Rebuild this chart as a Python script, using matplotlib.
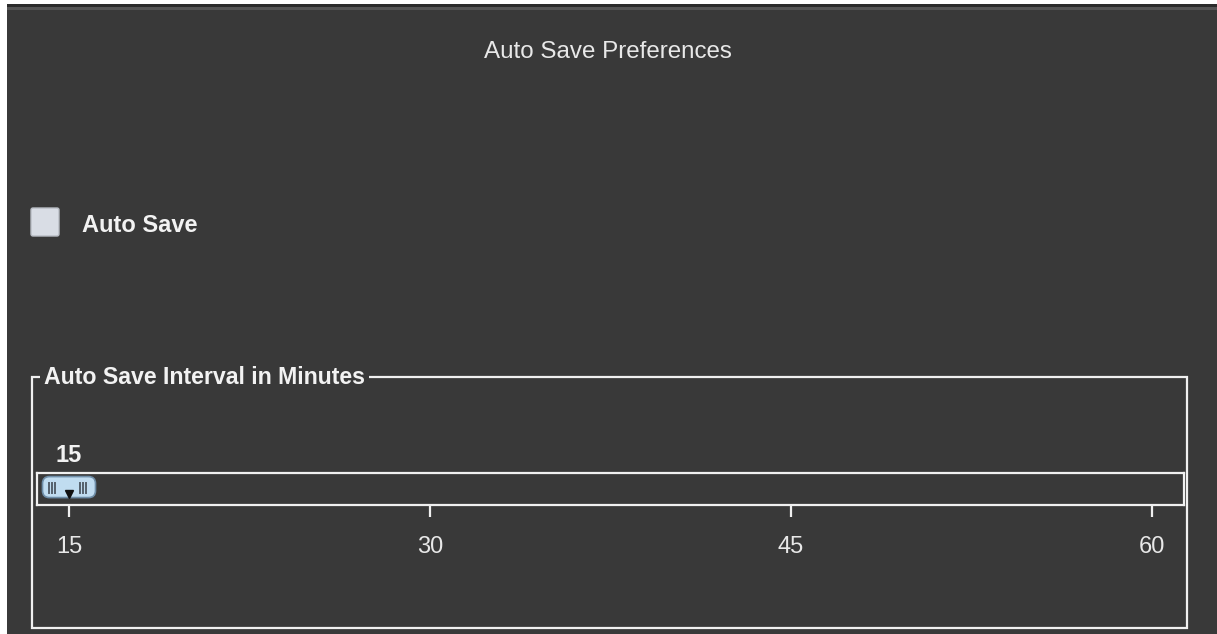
import matplotlib
matplotlib.use('Agg')
import matplotlib.pyplot as plt
from matplotlib.patches import Rectangle, FancyBboxPatch
from matplotlib.transforms import blended_transform_factory

plt.rcParams['font.family'] = ['Liberation Sans', 'DejaVu Sans']

# dialog content
window_title = 'Auto Save Preferences'
checkbox_label = 'Auto Save'
group_title = 'Auto Save Interval in Minutes'
slider_ticks = [15, 30, 45, 60]
slider_value = 15

W, H = 1217, 634
PANEL = '#393939'
FG = '#e8e8e8'

fig = plt.figure(figsize=(W / 100, H / 100), dpi=100, facecolor='white')

# background axes in pixel units
bg = fig.add_axes([0, 0, 1, 1])
bg.set_xlim(0, W)
bg.set_ylim(H, 0)
bg.axis('off')

bg.add_patch(Rectangle((7, 4), W - 7, H - 4, facecolor=PANEL, edgecolor='none'))
bg.add_patch(Rectangle((7, 4), W - 7, 3, facecolor='#2b2b2b', edgecolor='none'))
bg.add_patch(Rectangle((7, 7), W - 7, 3, facecolor='#555555', edgecolor='none'))

bg.text(608, 51.5, window_title, ha='center', va='center', fontsize=17.4, color=FG)

# checkbox
bg.add_patch(FancyBboxPatch((32, 209), 26, 26, boxstyle='round,pad=1,rounding_size=2',
                            facecolor='#d9dde5', edgecolor='#b8bcc4', linewidth=1))
bg.text(82, 225, checkbox_label, ha='left', va='center', fontsize=17,
        fontweight='bold', color='#f2f2f2')

# group box
bg.add_patch(Rectangle((32, 377), 1187 - 32, 628 - 377, facecolor='none',
                       edgecolor='#f0f0f0', linewidth=1.6))
bg.text(44, 378, group_title, ha='left', va='center', fontsize=16.7,
        fontweight='bold', color='#f2f2f2',
        bbox=dict(facecolor=PANEL, edgecolor='none', pad=3))

# slider
sl_left, sl_right, sl_top, sl_bot = 37, 1184, 473, 505
ax = fig.add_axes([sl_left / W, 1 - sl_bot / H, (sl_right - sl_left) / W, (sl_bot - sl_top) / H])
ax.set_facecolor(PANEL)
px_per_unit = (1152 - 69) / (slider_ticks[-1] - slider_ticks[0])
ax.set_xlim(slider_ticks[0] - (69 - sl_left) / px_per_unit,
            slider_ticks[-1] + (sl_right - 1152) / px_per_unit)
ax.set_ylim(0, 1)
for sp in ax.spines.values():
    sp.set_color('#f0f0f0')
    sp.set_linewidth(1.6)
ax.set_yticks([])
ax.set_xticks(slider_ticks)
ax.set_xticklabels([str(t) for t in slider_ticks])
ax.tick_params(axis='x', direction='out', length=8.5, width=1.6, color='#f0f0f0',
               labelcolor=FG, labelsize=17, pad=14)

# thumb, in data x / axes y
trans = blended_transform_factory(ax.transData, ax.transAxes)
unit_w = 1 / px_per_unit
unit_h = 1 / (sl_bot - sl_top)
tw, th = 53 * unit_w, 21 * unit_h
thumb = FancyBboxPatch((slider_value - tw / 2, 0.5 - th / 2 + 0.06), tw, th,
                       boxstyle='round,pad=0,rounding_size=%f' % (7 * unit_w),
                       mutation_aspect=unit_h / unit_w,
                       transform=trans, facecolor='#c0dcf0', edgecolor='#6f8ea8',
                       linewidth=1.2, clip_on=False)
ax.add_patch(thumb)
for dx in (-20, -17, -14, 11, 14, 17):
    ax.plot([slider_value + dx * unit_w] * 2, [0.38, 0.70], color='#55606c',
            linewidth=1.4, transform=trans, clip_on=False)
ax.plot([slider_value], [0.34], marker='v', markersize=6, color='#111111',
        transform=trans, clip_on=False)

# current value label
ax.text(slider_value, 1 + (473 - 455) * unit_h, str(slider_value), transform=trans,
        ha='center', va='center', fontsize=17, fontweight='bold', color='#f2f2f2')

fig.savefig('out.png', dpi=100, facecolor='white')
